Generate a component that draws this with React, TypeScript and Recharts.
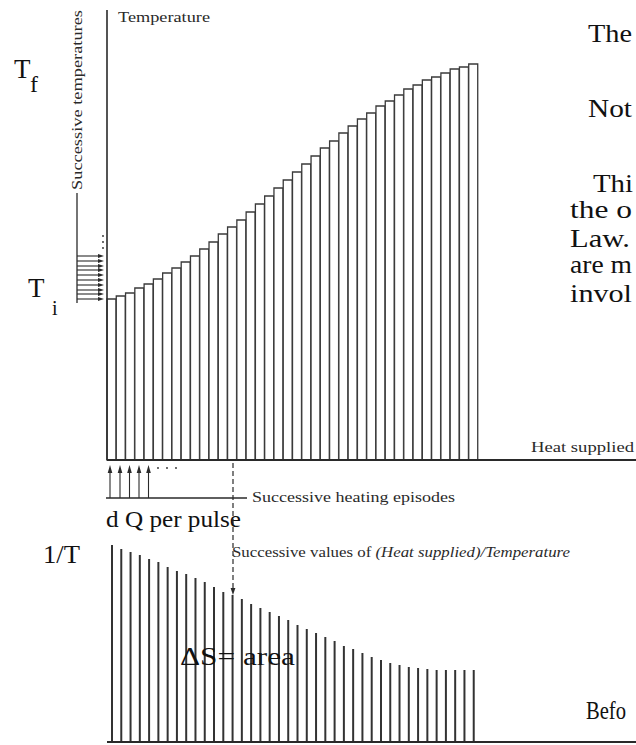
import React from 'react';
import { BarChart, Bar, XAxis, YAxis, ReferenceLine } from 'recharts';

// Heating pulses (categories)
const pulses = [
  '1', '2', '3', '4', '5', '6', '7', '8', '9', '10',
  '11', '12', '13', '14', '15', '16', '17', '18', '19', '20',
  '21', '22', '23', '24', '25', '26', '27', '28', '29', '30',
  '31', '32', '33', '34', '35', '36', '37', '38', '39', '40',
];

// Successive temperatures (arbitrary units)
const temperatures = [
  161, 164, 167, 172, 176, 181, 187, 192, 198, 204,
  211, 218, 226, 233, 240, 248, 256, 264, 272, 280,
  288, 296, 304, 312, 319, 327, 334, 341, 347, 354,
  359, 365, 371, 375, 380, 383, 387, 391, 393, 396,
];

// Successive values of (heat supplied)/temperature (arbitrary units)
const heatOverTemp = [
  197, 193, 190, 187, 183, 180, 175, 171, 168, 164,
  160, 155, 150, 147, 143, 138, 134, 130, 126, 122,
  117, 113, 109, 105, 101, 96, 93, 89, 85, 82,
  79, 77, 75, 74, 73, 72, 72, 72, 72, 72,
];

const topData = pulses.map((p, i) => ({ pulse: p, temperature: temperatures[i] }));
const bottomData = pulses.map((p, i) => ({ pulse: p, ratio: heatOverTemp[i] }));

const labelFont = '"Liberation Serif", "Times New Roman", serif';
const ink = '#2a2a2a';

function Overlay() {
  const arrowYs = [256, 261, 266, 270, 275, 280, 285, 290, 294, 299];
  const upArrowXs = [110, 120, 129.5, 139, 148.5];
  return (
    <svg
      width={636}
      height={745}
      style={{ position: 'absolute', left: 0, top: 0, pointerEvents: 'none' }}
    >
      {/* Top chart labels */}
      <text x={118} y={22} fontFamily={labelFont} fontSize={15} fill={ink} textLength={92} lengthAdjust="spacingAndGlyphs">
        Temperature
      </text>
      <text x={531} y={452} fontFamily={labelFont} fontSize={15} fill={ink} textLength={103} lengthAdjust="spacingAndGlyphs">
        Heat supplied
      </text>
      <g transform="translate(82,190) rotate(-90)">
        <text x={0} y={0} fontFamily={labelFont} fontSize={15} fill={ink} textLength={180} lengthAdjust="spacingAndGlyphs">
          Successive temperatures
        </text>
      </g>
      <line x1={77} y1={193} x2={77} y2={303} stroke={ink} strokeWidth={1.3} />
      {arrowYs.map((y) => (
        <g key={y}>
          <line x1={77} y1={y} x2={99} y2={y} stroke={ink} strokeWidth={1.1} />
          <polygon points={`98,${y - 2} 104,${y} 98,${y + 2}`} fill={ink} />
        </g>
      ))}
      <circle cx={103} cy={236} r={0.9} fill={ink} />
      <circle cx={103} cy={242} r={0.9} fill={ink} />
      <circle cx={103} cy={248} r={0.9} fill={ink} />

      {/* Big labels */}
      <text x={14} y={78} fontFamily={labelFont} fontSize={27} fill="#111">T</text>
      <text x={30} y={92} fontFamily={labelFont} fontSize={24} fill="#111">f</text>
      <text x={28} y={297} fontFamily={labelFont} fontSize={27} fill="#111">T</text>
      <text x={52} y={315} fontFamily={labelFont} fontSize={20} fill="#111">i</text>

      {/* Heating episodes */}
      {upArrowXs.map((x) => (
        <g key={x}>
          <line x1={x} y1={498} x2={x} y2={471} stroke={ink} strokeWidth={1.1} />
          <polygon points={`${x - 2.3},${473} ${x},${465} ${x + 2.3},${473}`} fill={ink} />
        </g>
      ))}
      <circle cx={158} cy={468} r={0.9} fill={ink} />
      <circle cx={167} cy={468} r={0.9} fill={ink} />
      <circle cx={176} cy={468} r={0.9} fill={ink} />
      <line x1={106} y1={498} x2={247} y2={498} stroke={ink} strokeWidth={1.3} />
      <text x={252} y={502} fontFamily={labelFont} fontSize={15} fill={ink} textLength={203} lengthAdjust="spacingAndGlyphs">
        Successive heating episodes
      </text>
      <text x={106} y={527} fontFamily={labelFont} fontSize={23} fill="#111" textLength={135} lengthAdjust="spacingAndGlyphs">
        d Q per pulse
      </text>

      {/* Dashed connector */}
      <line x1={233} y1={463} x2={233} y2={588} stroke={ink} strokeWidth={1.2} strokeDasharray="5,3" />
      <polygon points="230.6,588 233,595 235.4,588" fill={ink} />

      {/* Bottom chart labels */}
      <text x={43} y={563} fontFamily={labelFont} fontSize={26} fill="#111" textLength={37} lengthAdjust="spacingAndGlyphs">
        1/T
      </text>
      <text x={232} y={557} fontFamily={labelFont} fontSize={15} fill={ink} textLength={338} lengthAdjust="spacingAndGlyphs">
        Successive values of <tspan fontStyle="italic">(Heat supplied)/Temperature</tspan>
      </text>
      <text x={180} y={665} fontFamily={labelFont} fontSize={26} fill="#111" textLength={115} lengthAdjust="spacingAndGlyphs">
        ΔS= area
      </text>

      {/* Surrounding page text, only the part visible in the picture */}
      <g fontFamily={labelFont} fontSize={25} fill="#111">
        <text x={588} y={42} textLength={44} lengthAdjust="spacingAndGlyphs">The</text>
        <text x={588} y={117} textLength={44} lengthAdjust="spacingAndGlyphs">Not</text>
        <text x={593} y={192} textLength={40} lengthAdjust="spacingAndGlyphs">Thi</text>
        <text x={570} y={218} textLength={62} lengthAdjust="spacingAndGlyphs">the o</text>
        <text x={570} y={247} textLength={60} lengthAdjust="spacingAndGlyphs">Law.</text>
        <text x={570} y={273} textLength={62} lengthAdjust="spacingAndGlyphs">are m</text>
        <text x={570} y={302} textLength={62} lengthAdjust="spacingAndGlyphs">invol</text>
        <text x={586} y={719} textLength={40} lengthAdjust="spacingAndGlyphs">Befo</text>
      </g>
    </svg>
  );
}

export default function App() {
  return (
    <div
      style={{
        position: 'absolute',
        left: 0,
        top: 0,
        width: 636,
        height: 745,
        overflow: 'hidden',
        background: '#fff',
      }}
    >
      <div style={{ position: 'absolute', left: 0, top: 0 }}>
        <BarChart
          width={636}
          height={462}
          data={topData}
          margin={{ top: 10, right: 0, bottom: 2, left: 107 }}
          barCategoryGap={0}
          barGap={0}
        >
          <XAxis
            dataKey="pulse"
            height={0}
            tick={false}
            tickLine={false}
            axisLine={false}
            padding={{ left: 0, right: 158 }}
          />
          <YAxis domain={[0, 450]} width={0} tick={false} tickLine={false} axisLine={false} />
          <Bar
            dataKey="temperature"
            fill="#fff"
            stroke="#3a3a3a"
            strokeWidth={1.3}
            isAnimationActive={false}
          />
          <ReferenceLine y={0} stroke={ink} strokeWidth={2} />
          <ReferenceLine x="1" position="start" stroke={ink} strokeWidth={1.6} />
        </BarChart>
      </div>
      <div style={{ position: 'absolute', left: 0, top: 530 }}>
        <BarChart
          width={636}
          height={215}
          data={bottomData}
          margin={{ top: 10, right: 0, bottom: 3, left: 107 }}
        >
          <XAxis
            dataKey="pulse"
            height={0}
            tick={false}
            tickLine={false}
            axisLine={false}
            padding={{ left: 0, right: 158 }}
          />
          <YAxis domain={[0, 202]} width={0} tick={false} tickLine={false} axisLine={false} />
          <Bar dataKey="ratio" fill="#333" barSize={2} isAnimationActive={false} />
          <ReferenceLine y={0} stroke={ink} strokeWidth={2} />
        </BarChart>
      </div>
      <Overlay />
    </div>
  );
}
